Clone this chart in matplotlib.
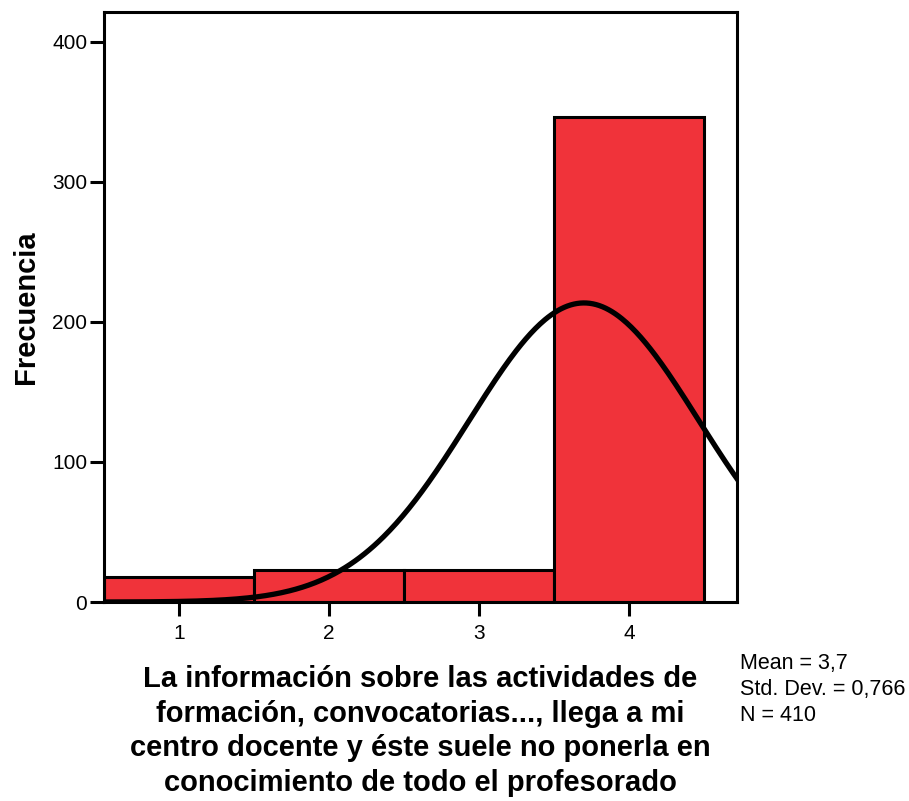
import numpy as np
import matplotlib.pyplot as plt

plt.rcParams['font.family'] = ['Liberation Sans', 'DejaVu Sans']

# Frecuencias por categoría de respuesta
categorias = [1, 2, 3, 4]
frecuencias = [18, 23, 23, 346]
media = 3.7
desv = 0.766
n_total = 410

fig = plt.figure(figsize=(9.09, 8.01), dpi=100)
ax = fig.add_axes([0.1144, 0.2484, 0.6964, 0.7362])

ax.bar(categorias, frecuencias, width=1.0, color='#F0333A',
       edgecolor='black', linewidth=2.2, zorder=2)

# Curva normal escalada al número de casos
xs = np.linspace(0.5, 4.75, 400)
ys = n_total * 1.0 / (desv * np.sqrt(2 * np.pi)) * np.exp(-0.5 * ((xs - media) / desv) ** 2)
ax.plot(xs, ys, color='black', linewidth=3.8, zorder=3)

ax.set_xlim(0.5, 4.72)
ax.set_ylim(0, 421)
ax.set_xticks(categorias)
ax.set_yticks([0, 100, 200, 300, 400])
ax.tick_params(axis='both', direction='out', length=10, width=2.2,
               labelsize=15)
ax.tick_params(axis='y', pad=2)
ax.tick_params(axis='x', pad=6)
for s in ax.spines.values():
    s.set_linewidth(2.2)

ax.set_ylabel('Frecuencia', fontsize=21, fontweight='bold', labelpad=9)
fig.text(0.462, 0.0875,
         'La información sobre las actividades de\n'
         'formación, convocatorias..., llega a mi\n'
         'centro docente y éste suele no ponerla en\n'
         'conocimiento de todo el profesorado',
         ha='center', va='center', fontsize=21, fontweight='bold',
         linespacing=1.3)

fig.text(0.814, 0.139, 'Mean = 3,7\nStd. Dev. = 0,766\nN = 410',
         ha='left', va='center', fontsize=15.5, linespacing=1.3)

fig.savefig('out.png', dpi=100)
